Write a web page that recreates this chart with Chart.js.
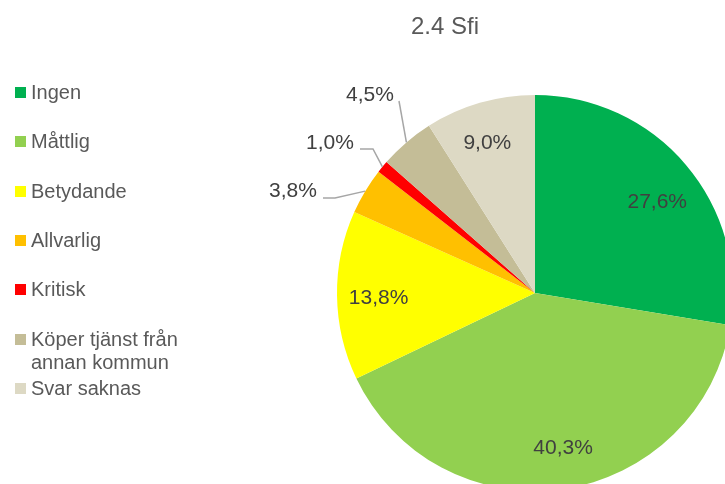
<!DOCTYPE html>
<html>
<head>
<meta charset="utf-8">
<script src="https://cdn.jsdelivr.net/npm/chart.js@4"></script>
<style>
  html, body { margin: 0; padding: 0; background: #fff; overflow: hidden; width: 725px; height: 484px; }
  #wrap { position: absolute; left: 0; top: 0; width: 1070px; height: 586px; }
  #title { position: absolute; left: 345px; width: 200px; top: 12px; text-align: center;
           font: 24px "Liberation Sans", Arial, sans-serif; color: #595959; z-index: 2; }
  #legend { position: absolute; left: 0; top: 0; z-index: 2; }
  .item { position: absolute; left: 15px; width: 190px; font: 20px/23px "Liberation Sans", Arial, sans-serif; color: #595959; }
  .box { position: absolute; left: 0; top: 6px; width: 11px; height: 11px; }
  .txt { margin-left: 16px; width: 165px; }
</style>
</head>
<body>
<div id="title">2.4 Sfi</div>
<div id="legend"></div>
<div id="wrap"><canvas id="chart" width="1070" height="586"></canvas></div>
<script>
const categories = ['Ingen', 'Måttlig', 'Betydande', 'Allvarlig', 'Kritisk', 'Köper tjänst från annan kommun', 'Svar saknas'];
const values = [27.6, 40.3, 13.8, 3.8, 1.0, 4.5, 9.0];
const colors = ['#00B050', '#92D050', '#FFFF00', '#FFC000', '#FF0000', '#C4BD97', '#DDD9C4'];

// legend (html, so the long label can wrap)
const legend = document.getElementById('legend');
categories.forEach((c, i) => {
  const it = document.createElement('div');
  it.className = 'item';
  it.style.top = (81 + i * 49.3) + 'px';
  it.innerHTML = '<span class="box" style="background:' + colors[i] + '"></span><div class="txt">' + c + '</div>';
  legend.appendChild(it);
});

const fmt = v => v.toFixed(1).replace('.', ',') + '%';

// labels outside the pie: text pos + leader points, relative to centre
const outside = {
  3: { x: -242, y: -102, pts: [[-212, -95], [-200, -95]] },
  4: { x: -205, y: -150, pts: [[-175, -144], [-162, -144]] },
  5: { x: -165, y: -198, pts: [[-136, -192]] }
};
// small nudges for inside labels
const nudge = { 0: [3, 10], 1: [6, 0], 2: [0, 3], 6: [-4, 0] };

const pieLabels = {
  id: 'pieLabels',
  afterDatasetsDraw(chart) {
    const ctx = chart.ctx;
    const meta = chart.getDatasetMeta(0);
    ctx.save();
    ctx.font = '21px "Liberation Sans", Arial, sans-serif';
    ctx.textAlign = 'center';
    ctx.textBaseline = 'middle';
    meta.data.forEach((arc, i) => {
      const p = arc.getProps(['x', 'y', 'startAngle', 'endAngle', 'outerRadius'], true);
      const mid = (p.startAngle + p.endAngle) / 2;
      const v = chart.data.datasets[0].data[i];
      const o = outside[i];
      ctx.fillStyle = '#404040';
      if (o) {
        ctx.strokeStyle = '#A6A6A6';
        ctx.lineWidth = 1.5;
        ctx.beginPath();
        o.pts.forEach((pt, k) => {
          if (k === 0) ctx.moveTo(p.x + pt[0], p.y + pt[1]);
          else ctx.lineTo(p.x + pt[0], p.y + pt[1]);
        });
        ctx.lineTo(p.x + Math.cos(mid) * p.outerRadius, p.y + Math.sin(mid) * p.outerRadius);
        ctx.stroke();
        ctx.fillText(fmt(v), p.x + o.x, p.y + o.y);
      } else {
        const d = p.outerRadius * 0.79;
        const n = nudge[i] || [0, 0];
        ctx.fillText(fmt(v), p.x + Math.cos(mid) * d + n[0], p.y + Math.sin(mid) * d + n[1]);
      }
    });
    ctx.restore();
  }
};

new Chart(document.getElementById('chart'), {
  type: 'pie',
  data: {
    labels: categories,
    datasets: [{
      data: values,
      backgroundColor: colors,
      borderWidth: 0
    }]
  },
  options: {
    responsive: false,
    animation: false,
    layout: { padding: { left: 337, right: 337, top: 95, bottom: 95 } },
    plugins: {
      legend: { display: false },
      title: { display: false },
      tooltip: { enabled: false }
    }
  },
  plugins: [pieLabels]
});
</script>
</body>
</html>
